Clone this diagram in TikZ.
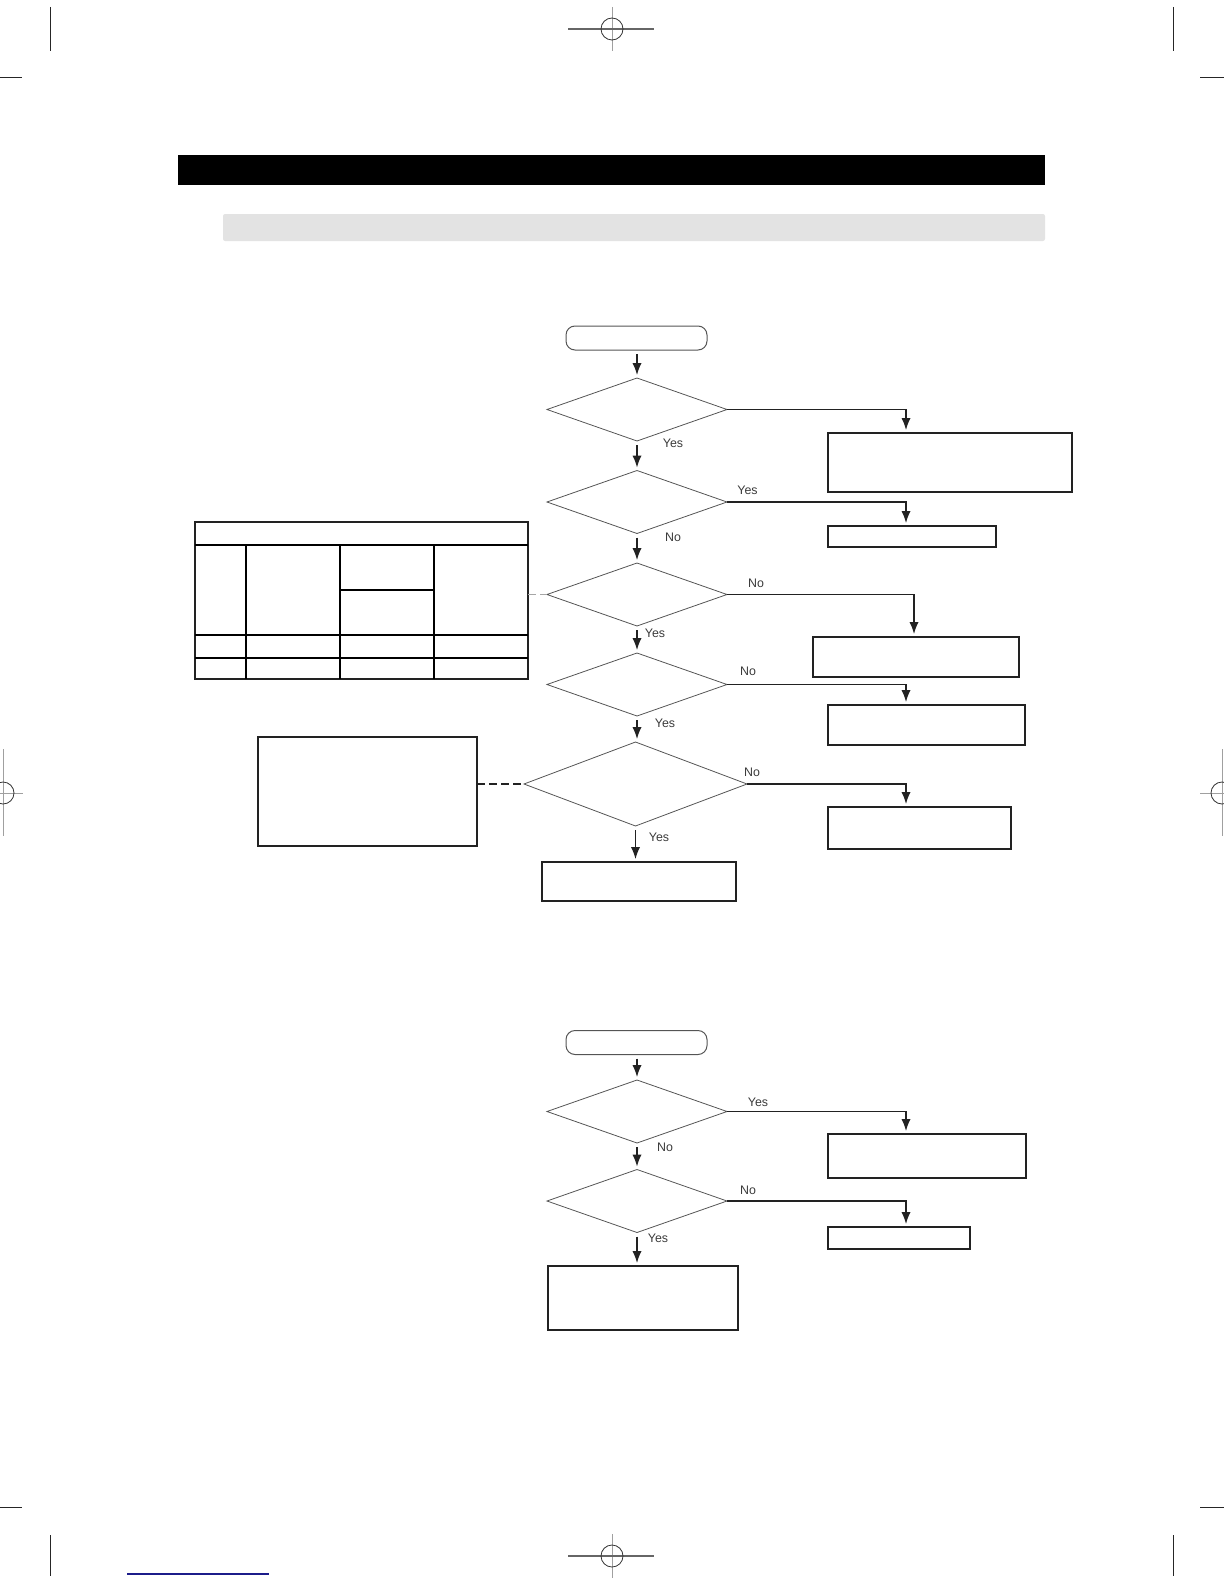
\documentclass[tikz,border=0pt]{standalone}
\usepackage{fontspec}
\setmainfont{Liberation Sans}
\usepackage{tikz}
\usetikzlibrary{shapes.geometric,arrows.meta,positioning,calc}
\definecolor{fcLine}{HTML}{222222}
\definecolor{fcEdge}{HTML}{555555}
\definecolor{fcText}{HTML}{3A3A3A}
\definecolor{fcBand}{HTML}{E3E3E3}
\definecolor{fcMark}{HTML}{A0A0A0}
\definecolor{fcBlue}{HTML}{1C1C8A}
\tikzset{
    fcBox/.style={
        rectangle,
        draw=fcLine,
        line width=0.7pt,
        inner sep=0pt,
        outer sep=0pt
    },
    fcStart/.style={fcBox, rounded corners=4.5pt, draw=fcEdge, line width=0.5pt,
        minimum width=70.5pt, minimum height=12pt},
    fcDecision/.style={
        diamond,
        draw=fcEdge,
        line width=0.4pt,
        inner sep=0pt,
        outer sep=0pt,
        minimum width=90pt,
        minimum height=31.5pt
    },
    % Labels and connectors
    fcLabel/.style={font=\fontsize{6.2}{7}\selectfont, text=fcText, inner sep=0pt},
    fcArrow/.style={-{Latex[length=6pt,width=4.6pt]}, draw=fcLine, line width=0.6pt, shorten >=1.5pt},
    fcDown/.style={fcArrow, shorten <=2pt},
    fcNote/.style={dashed, dash pattern=on 4pt off 2pt, line width=0.6pt},
    fcRule/.style={draw=black, line width=0.8pt}
}

\begin{document}
\begin{tikzpicture}[x=0.5pt, y=-0.5pt]
\useasboundingbox (0,0) rectangle (1224,1584);

% --- Page marks ---
\draw[black!85, line width=0.5pt] (50,7) -- (50,51) (1173,7) -- (1173,51)
    (0,78) -- (22,78) (1200,78) -- (1224,78)
    (0,1507) -- (22,1507) (1200,1507) -- (1224,1507)
    (50,1535) -- (50,1576) (1173,1535) -- (1173,1576);
\foreach \mx/\my in {612/29, 612/1556}{
    \draw[fcMark, line width=0.3pt] (\mx,\my-22) -- (\mx,\my+22);
    \draw[black!60, line width=0.8pt] (\mx-44,\my) -- (\mx+42,\my);
    \draw[black!80, line width=0.4pt] (\mx,\my) circle[radius=5.5pt];
}
\foreach \mx/\ma/\mb in {3/0/23, 1222/1200/1224}{
    \draw[fcMark, line width=0.4pt] (\mx,749) -- (\mx,836);
    \draw[fcMark, line width=0.4pt] (\ma,793) -- (\mb,793);
    \draw[black!80, line width=0.4pt] (\mx,793) circle[radius=5.5pt];
}
\draw[fcBlue, line width=1pt] (127,1574) -- (269,1574);

% --- Title bars ---
\fill[black] (178,155) rectangle (1045,185);
\fill[fcBand, rounded corners=1pt] (223,214) rectangle (1045,241);

% --- Chart 1: main column ---
\node[fcStart] (start1) at (636.5,338) {};
\node[fcDecision] (d1) at (637,409.5) {};
\node[fcDecision] (d2) at (637,502) {};
\node[fcDecision] (d3) at (637,594.5) {};
\node[fcDecision] (d4) at (637,684.5) {};
\node[fcDecision, minimum width=111.5pt, minimum height=42pt] (d5) at (635.5,784) {};
\node[fcBox, minimum width=97pt, minimum height=19.5pt] (b1) at (639,881.5) {};

% Right column boxes
\coordinate (colR) at (906,400);
\coordinate (colR3) at (914,590);
\node[fcBox, minimum width=122pt, minimum height=29.5pt] (r1) at (950,462.5) {};
\node[fcBox, minimum width=84pt, minimum height=10.5pt] (r2) at (912,536.5) {};
\node[fcBox, minimum width=103pt, minimum height=20pt] (r3) at (916,657) {};
\node[fcBox, minimum width=98.5pt, minimum height=20pt] (r4) at (926.5,725) {};
\node[fcBox, minimum width=91.5pt, minimum height=21pt] (r5) at (919.5,828) {};

% Left side: table and note box
\node[fcBox, minimum width=166.5pt, minimum height=78.5pt] (tbl) at (361.5,600.5) {};
\draw[fcRule] (195,545) -- (528,545) (195,635) -- (528,635) (195,658) -- (528,658)
    (246,545) -- (246,679) (340,545) -- (340,679) (434,545) -- (434,679)
    (340,590) -- (434,590);
\node[fcBox, minimum width=109.5pt, minimum height=54.5pt] (note1) at (367.5,791.5) {};

% Connectors
\draw[fcDown] (d1.north |- start1.south) -- (d1.north);
\draw[fcDown] (d1.south) -- (d2.north);
\draw[fcDown] (d2.south) -- (d3.north);
\draw[fcDown] (d3.south) -- (d4.north);
\draw[fcDown] (d4.south) -- (d4.south |- d5.north);
\draw[fcDown] (d5.south) -- (d5.south |- b1.north);
\draw[fcArrow] (d1.east) -| (colR |- r1.north);
\draw[fcArrow] (d2.east) -| (colR |- r2.north);
\draw[fcArrow] (d3.east) -| (colR3 |- r3.north);
\draw[fcArrow] (d4.east) -| (colR |- r4.north);
\draw[fcArrow] (d5.east) -| (colR |- r5.north);
\draw[fcNote, draw=black!35] (tbl.east |- d3.west) -- (d3.west);
\draw[fcNote, draw=fcLine] (note1.east |- d5.west) -- (d5.west);

% Branch labels
\node[fcLabel] (y1) at (673,443) {Yes};
\node[fcLabel] (y2) at (747.5,490) {Yes};
\node[fcLabel] (n2) at (673,537) {No};
\node[fcLabel] (n3) at (756,583) {No};
\node[fcLabel] (y3) at (655,633) {Yes};
\node[fcLabel] (n4) at (748,671) {No};
\node[fcLabel] (y4) at (665,723) {Yes};
\node[fcLabel] (n5) at (752,772) {No};
\node[fcLabel] (y5) at (659,837) {Yes};

% --- Chart 2 ---
\node[fcStart] (start2) at (636.5,1042.5) {};
\node[fcDecision] (d6) at (637,1111.5) {};
\node[fcDecision] (d7) at (637,1201) {};
\node[fcBox, minimum width=95pt, minimum height=32pt] (b2) at (643,1298) {};
\node[fcBox, minimum width=99pt, minimum height=22pt] (r6) at (927,1156) {};
\node[fcBox, minimum width=71pt, minimum height=11pt] (r7) at (899,1238) {};

\draw[fcDown] (d6.north |- start2.south) -- (d6.north);
\draw[fcDown] (d6.south) -- (d7.north);
\draw[fcDown] (d7.south) -- (d7.south |- b2.north);
\draw[fcArrow] (d6.east) -| (colR |- r6.north);
\draw[fcArrow] (d7.east) -| (colR |- r7.north);

\node[fcLabel] (y6) at (758,1102) {Yes};
\node[fcLabel] (n6) at (665,1147) {No};
\node[fcLabel] (n7) at (748,1190) {No};
\node[fcLabel] (y7) at (658,1238) {Yes};

\end{tikzpicture}
\end{document}
